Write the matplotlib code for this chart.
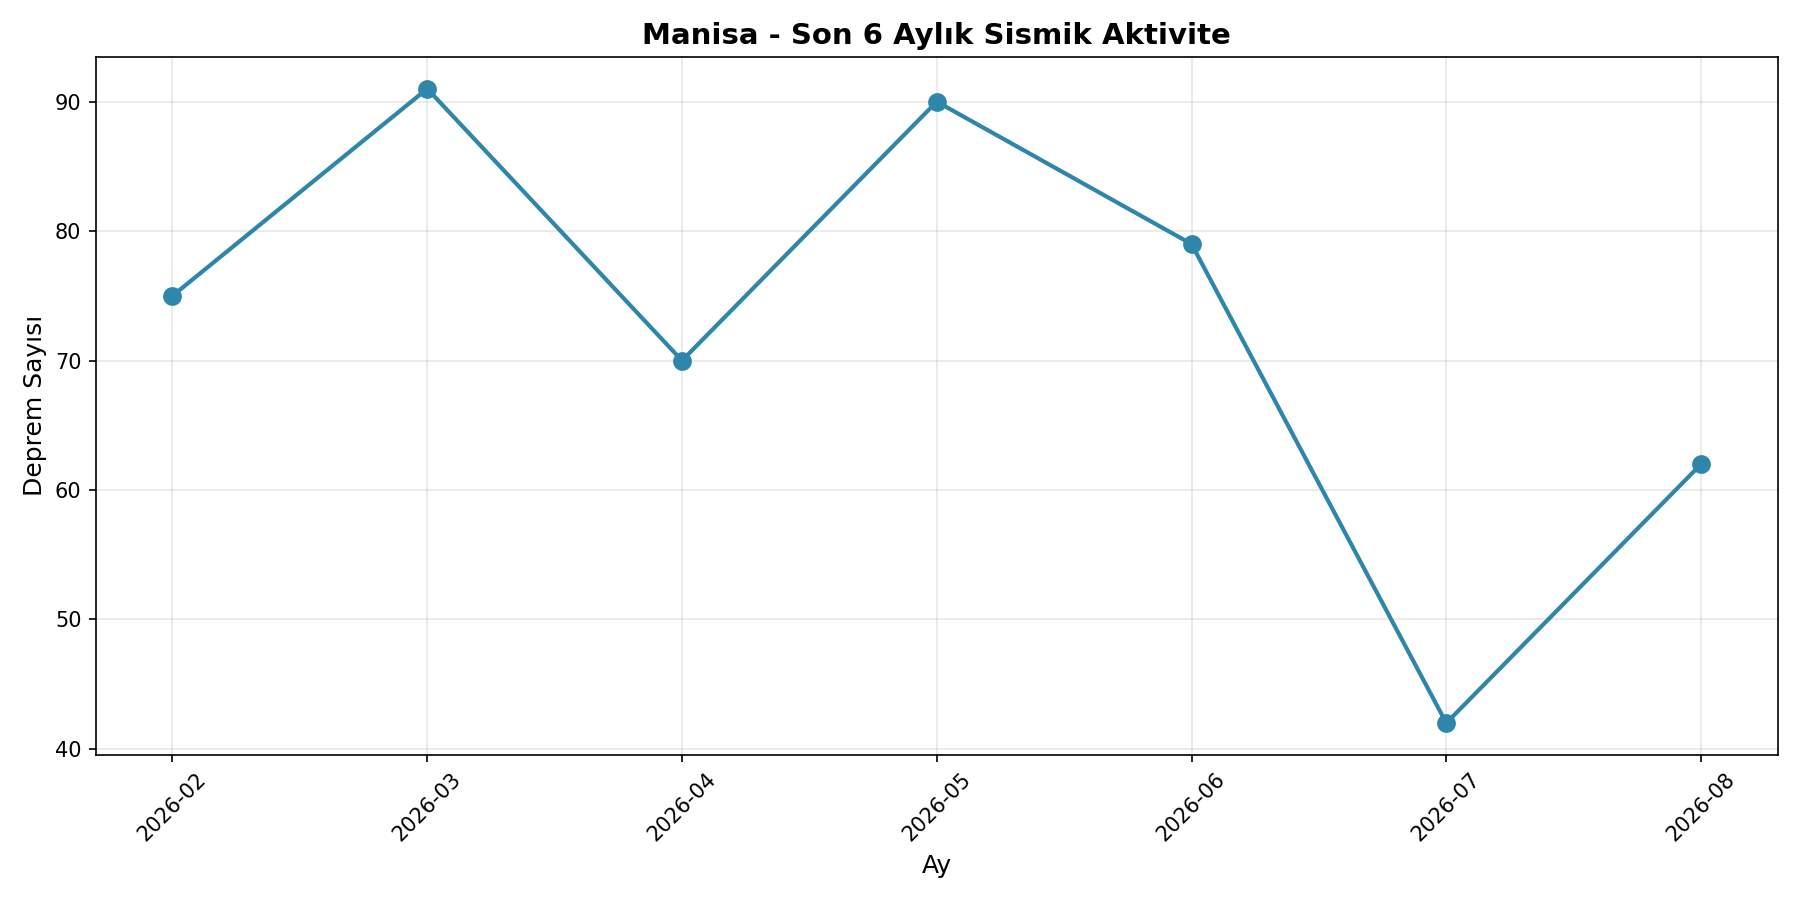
import matplotlib
matplotlib.use("Agg")
import matplotlib.pyplot as plt

months = ["2026-02", "2026-03", "2026-04", "2026-05", "2026-06", "2026-07", "2026-08"]
counts = [75, 91, 70, 90, 79, 42, 62]

fig, ax = plt.subplots(figsize=(12, 6), dpi=150)
ax.plot(months, counts, marker="o", color="#2E86AB", linewidth=2, markersize=8)
ax.set_title("Manisa - Son 6 Aylık Sismik Aktivite", fontsize=14, fontweight="bold")
ax.set_xlabel("Ay", fontsize=12)
ax.set_ylabel("Deprem Sayısı", fontsize=12)
ax.grid(True, alpha=0.3)
plt.setp(ax.get_xticklabels(), rotation=45)
fig.tight_layout()
fig.savefig("out.png")
